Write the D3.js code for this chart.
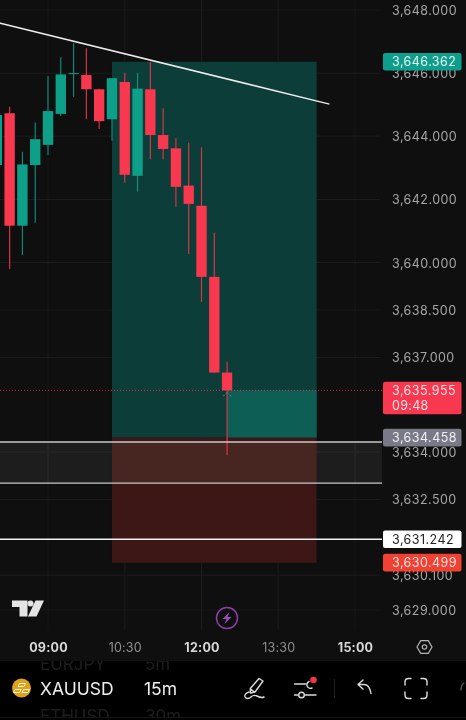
<!DOCTYPE html>
<html><head><meta charset="utf-8">
<script src="https://cdn.jsdelivr.net/npm/d3@7/dist/d3.min.js"></script>
<style>html,body{margin:0;padding:0;background:#000;overflow:hidden}svg{display:block}text{font-family:Inter,"Noto Sans",sans-serif}</style>
</head><body><svg id="c" width="466" height="720"></svg>
<script>
const times=["08:00","08:15","08:30","08:45","09:00","09:15","09:30","09:45","10:00","10:15","10:30","10:45","11:00","11:15","11:30","11:45","12:00","12:15","12:30"];
const opens=[3643.09,3644.73,3641.17,3643.09,3643.73,3644.71,3645.98,3645.94,3645.49,3644.54,3645.72,3642.75,3645.49,3644.04,3643.62,3642.44,3641.80,3639.55,3636.52];
const highs=[3644.83,3644.94,3643.51,3644.44,3645.91,3646.50,3646.95,3646.79,3645.51,3645.85,3646.01,3646.01,3646.36,3644.89,3643.94,3643.80,3643.65,3640.95,3636.86];
const lows=[3642.87,3639.80,3640.24,3641.26,3643.41,3644.64,3645.25,3644.54,3644.23,3643.86,3642.53,3642.25,3643.27,3643.27,3641.77,3640.27,3638.75,3636.51,3633.91];
const closes=[3644.675,3641.17,3643.11,3643.91,3644.80,3645.96,3646.00,3645.49,3644.48,3645.84,3642.78,3645.51,3644.04,3643.60,3642.40,3641.86,3639.55,3636.52,3635.955];
const priceTicks=[3648,3646,3644,3642,3640,3638.5,3637,3634,3632.5,3630.1,3629];
const timeTicks=["09:00","10:30","12:00","13:30","15:00"];
const boldTimes=["09:00","12:00","15:00"];
const positionTop=3646.362,positionEntry=3634.458,positionBottom=3630.499,lastPrice=3635.955;
const positionStart="10:15",positionEnd="14:15";
const bandTop=3634.32,bandBottom=3633.02,stopLine=3631.242;
const trendStart=["07:45",3647.71],trendEnd=["14:30",3645.02];
const tags=[[3646.362,"3,646.362","#0f9f8c","#e8f5f2"],[3634.458,"3,634.458","#787a87","#f0f0f3"],[3631.242,"3,631.242","#ffffff","#222"],[3630.499,"3,630.499","#f23f33","#fbe3e0"]];
const watchGhost=[["EURJPY","5m",669.5],["ETHUSD","30m",722]];

const svg=d3.select("#c");
const t=s=>{const[h,m]=s.split(":").map(Number);return new Date(Date.UTC(2025,0,1,h,m));};
const x=d3.scaleUtc().domain([t("09:00"),t("15:00")]).range([48,355]);
const y=d3.scaleLinear().domain([3648,3629]).range([10,610]);
const fmt=d3.format(",.3f");
const defs=svg.append("defs");
const soft=defs.append("filter").attr("id","soft");
soft.append("feGaussianBlur").attr("stdDeviation",0.35);
defs.append("clipPath").attr("id","barclip").append("rect").attr("y",661).attr("width",466).attr("height",56);

svg.append("rect").attr("width",466).attr("height",661).attr("fill","#0f0f0f");
const root=svg.append("g").attr("filter","url(#soft)");

// grid
const grid=root.append("g").attr("stroke","#1c1c1c").attr("stroke-width",1);
grid.selectAll("line.h").data(priceTicks).join("line").attr("x1",0).attr("x2",380).attr("y1",d=>y(d)).attr("y2",d=>y(d));
grid.selectAll("line.v").data(timeTicks).join("line").attr("x1",d=>x(t(d))).attr("x2",d=>x(t(d))).attr("y1",0).attr("y2",630);

// position
const px0=x(t(positionStart)),px1=x(t(positionEnd));
root.append("rect").attr("x",px0).attr("width",px1-px0).attr("y",y(positionTop)).attr("height",y(positionEntry)-y(positionTop)).attr("fill","#0c3c37");
root.append("rect").attr("x",x(t(times[times.length-1]))).attr("width",px1-x(t(times[times.length-1]))).attr("y",y(lastPrice)).attr("height",y(positionEntry)-y(lastPrice)).attr("fill","#0b5f55");
root.append("rect").attr("x",px0).attr("width",px1-px0).attr("y",y(positionEntry)).attr("height",y(positionBottom)-y(positionEntry)).attr("fill","#3c1917");
root.append("rect").attr("x",0).attr("width",382).attr("y",y(bandTop)).attr("height",y(bandBottom)-y(bandTop)).attr("fill","#fff").attr("opacity",0.06);

// price dotted line
root.append("line").attr("x1",0).attr("x2",382).attr("y1",y(lastPrice)).attr("y2",y(lastPrice)).attr("stroke","#f7374f").attr("stroke-width",1).attr("stroke-dasharray","1 2").attr("opacity",.8);

// candles
const candles=times.map((d,i)=>({d,o:opens[i],h:highs[i],l:lows[i],c:closes[i]}));
const up=d=>d.c>=d.o;
const g=root.append("g").selectAll("g").data(candles).join("g");
const colorOf=d=>up(d)?"#0b9f88":"#f7374f";
g.append("line").attr("x1",d=>x(t(d.d))).attr("x2",d=>x(t(d.d))).attr("y1",d=>y(d.h)).attr("y2",d=>y(d.l)).attr("stroke",colorOf).attr("stroke-width",1.2).attr("stroke-opacity",0.85);
g.append("rect").attr("x",d=>x(t(d.d))-5.2).attr("width",10.4).attr("y",d=>y(Math.max(d.o,d.c))).attr("height",d=>Math.max(1,Math.abs(y(d.o)-y(d.c)))).attr("fill",colorOf);

// small cursor mark
const lastX=x(t(times[times.length-1]));
root.append("path").attr("d",d3.line()([[lastX-4,y(lastPrice)+6],[lastX,y(lastPrice)+2],[lastX+4,y(lastPrice)+6]])).attr("fill","none").attr("stroke","#7d8a8a").attr("stroke-width",1).attr("stroke-dasharray","2.5 2");

// horizontal lines
[[bandTop,1.3,"#c9c9c9"],[bandBottom,1.3,"#c9c9c9"],[stopLine,1.6,"#f1f1f1"]].forEach(([v,w,c])=>{
 root.append("line").attr("x1",0).attr("x2",382).attr("y1",y(v)).attr("y2",y(v)).attr("stroke",c).attr("stroke-width",w);
});
// trend line
root.append("line").attr("x1",x(t(trendStart[0]))).attr("y1",y(trendStart[1])).attr("x2",x(t(trendEnd[0]))).attr("y2",y(trendEnd[1])).attr("stroke","#ececec").attr("stroke-width",1.5);

// price axis
const ya=root.append("g").attr("transform","translate(392,0)").call(d3.axisRight(y).tickValues(priceTicks).tickSize(0).tickPadding(0).tickFormat(fmt));
ya.select(".domain").remove();
ya.selectAll("text").attr("fill","#a6a6a6").attr("font-size",12.5).attr("letter-spacing",0.45).attr("dy","0.35em");

// tags
const tg=root.append("g").selectAll("g").data(tags).join("g");
tg.append("rect").attr("x",383).attr("width",78.5).attr("y",d=>y(d[0])-8.8).attr("height",17.6).attr("rx",2).attr("fill",d=>d[2]);
tg.append("text").attr("x",392).attr("y",d=>y(d[0])).attr("dy","0.36em").attr("font-size",12.5).attr("letter-spacing",0.45).attr("fill",d=>d[3]).text(d=>d[1]);
const lt=root.append("g");
lt.append("rect").attr("x",383).attr("y",y(lastPrice)-8.6).attr("width",78.5).attr("height",32.6).attr("rx",2).attr("fill","#f7374f");
lt.append("text").attr("x",392).attr("y",y(lastPrice)).attr("dy","0.36em").attr("font-size",12.5).attr("letter-spacing",0.45).attr("fill","#fde2e5").text(fmt(lastPrice));
lt.append("text").attr("x",392).attr("y",y(lastPrice)+15).attr("dy","0.36em").attr("font-size",12.5).attr("letter-spacing",0.3).attr("fill","#fde2e5").text("09:48");

// time axis
const xa=root.append("g").attr("transform","translate(0,647)").call(d3.axisBottom(x).tickValues(timeTicks.map(t)).tickSize(0).tickPadding(0).tickFormat(d3.utcFormat("%H:%M")));
xa.select(".domain").remove();
xa.selectAll("text").attr("dy","0.36em").attr("y",0).attr("font-size",12.5).attr("letter-spacing",0.2)
 .attr("fill",d=>boldTimes.includes(d3.utcFormat("%H:%M")(d))?"#d8d8d8":"#8f8f8f")
 .attr("font-weight",d=>boldTimes.includes(d3.utcFormat("%H:%M")(d))?700:400);

// TV logo
root.append("path").attr("fill","#e4e4e4").attr("d","M12 600.5h15.5v16h-8v-9.5h-7.5zM35.5 600.5h8.5l-7.5 16h-8.5z");
root.append("circle").attr("cx",30.5).attr("cy",603.5).attr("r",3).attr("fill","#e4e4e4");
// lightning
const lg=root.append("g").attr("transform","translate(227,618)");
lg.append("circle").attr("r",10.5).attr("fill","none").attr("stroke","#8c3fa8").attr("stroke-width",1.5);
lg.append("path").attr("fill","#a04ac0").attr("d","M2.5-6L-4.5 1H-.5L-2.5 6L4.5-1H.5z");
// settings hex
const sg=root.append("g").attr("transform","translate(424.5,647)").attr("fill","none").attr("stroke","#b5b5b5").attr("stroke-width",1.2);
sg.append("path").attr("d","M-7.5 0L-3.8-6.3H3.8L7.5 0L3.8 6.3H-3.8z");
sg.append("circle").attr("r",2.2);

// toolbar
const bar=svg.append("g").attr("filter","url(#soft)");
bar.append("rect").attr("y",661).attr("width",466).attr("height",59).attr("fill","#000");
bar.append("g").attr("clip-path","url(#barclip)").selectAll("text").data(watchGhost).join("text").attr("y",d=>d[2]).attr("font-size",17).attr("fill","#1e1e1e").each(function(d){
 d3.select(this).append("tspan").attr("x",40).text(d[0]);
 d3.select(this).append("tspan").attr("x",145).text(d[1]);
});
bar.append("line").attr("x1",0).attr("x2",466).attr("y1",717.5).attr("y2",717.5).attr("stroke","#141414");
bar.append("circle").attr("cx",21.5).attr("cy",688).attr("r",9.5).attr("fill","#e0a21c");
bar.append("path").attr("d","M18 686.5h6l1.5-3h-6zM13.5 692.5h6l1.5-3h-6zM22 692.5h6l1.5-3h-6z").attr("fill","none").attr("stroke","#fff3d0").attr("stroke-width",1);
bar.append("text").attr("x",40).attr("y",694.5).attr("font-size",17.5).attr("fill","#efefef").text("XAUUSD");
bar.append("text").attr("x",144).attr("y",694.5).attr("font-size",17.5).attr("fill","#efefef").text("15m");
const ic=bar.append("g").attr("fill","none").attr("stroke","#dcdcdc").attr("stroke-width",1.4).attr("stroke-linecap","round").attr("stroke-linejoin","round");
ic.append("path").attr("d","M259 678.5l4 2.5-8 11-4.5 1-.2-4.5zM250.5 689l4 3M249 692c-3 1-5 3-4 5s4 2 6 0 4-2 6-1 5 2 7 1");
ic.append("path").attr("d","M294.5 684h11.5M294.5 695h3M305 695h11");
ic.append("path").attr("d","M312 688a3 3 0 1 1-3-6.5").attr("stroke","#dcdcdc");
ic.append("circle").attr("cx",301.5).attr("cy",695).attr("r",2.8);
bar.append("circle").attr("cx",313.5).attr("cy",680).attr("r",3.3).attr("fill","#f23645");
bar.append("line").attr("x1",334.5).attr("x2",334.5).attr("y1",679).attr("y2",698).attr("stroke","#222");
ic.append("path").attr("d","M363 689l-5-4.5 5-4.5M358 684.5h6c4 0 6 3 7 9");
ic.append("path").attr("d","M411 678.5h-2.5q-3.5 0-3.5 3.5v3M421 678.5h2.5q3.500 0 3.500 3.500v3M411 698.500h-2.500q-3.500 0-3.500-3.500v-3M421 698.500h2.500q3.500 0 3.500-3.500v-3");
ic.append("path").attr("d","M464 683q-3 2-3 7").attr("stroke","#555");
</script></body></html>
